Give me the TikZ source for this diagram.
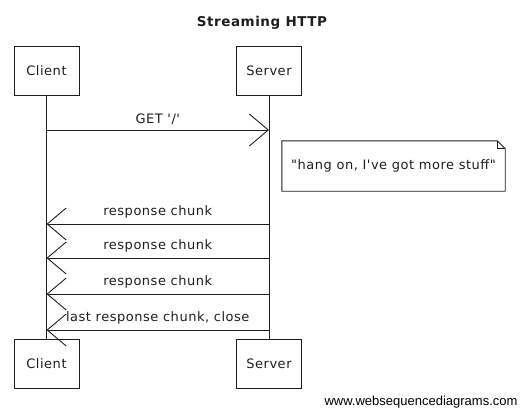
\documentclass[tikz,border=0pt]{standalone}
\usepackage{fontspec}
\setmainfont{DejaVu Sans}[Ligatures=TeXOff, LetterSpace=4]
\newfontfamily\wsdfont{Liberation Sans}
\usetikzlibrary{arrows.meta,positioning}
\definecolor{inkgray}{RGB}{30,30,30}

\begin{document}
\begin{tikzpicture}[x=1pt,y=-1pt,
    every node/.style={font=\fontsize{13}{15}\selectfont, text=inkgray},
    actor/.style={draw=inkgray, line width=0.9pt, minimum width=65pt, minimum height=49pt, inner sep=0pt},
    msg/.style={draw=inkgray, line width=0.9pt, -{Straight Barb[length=19pt,width=32pt]}},
    lifeline/.style={draw=inkgray, line width=0.8pt}]
  \useasboundingbox (0,0) rectangle (530,410);

  % Title
  \node[font=\fontsize{13.5}{15}\selectfont\bfseries] (title) at (262,23) {Streaming HTTP};

  % Participants, top and bottom
  \node[actor] (client) at (46.5,70.5) {Client};
  \node[actor] (server) at (269,70.5) {Server};
  \node[actor] (clientB) at (46.5,364) {Client};
  \node[actor] (serverB) at (269,364) {Server};

  % Lifelines
  \draw[lifeline] (client) -- (clientB);
  \draw[lifeline] (server) -- (serverB);

  % Request
  \coordinate (c0) at (client |- 0,130);
  \coordinate (s0) at (server |- 0,130);
  \draw[msg] (c0) -- node[above=2pt] (get) {GET '/'} (s0);

  % Note next to the server
  \node[minimum width=223pt, minimum height=50pt, inner sep=0pt] (note) at (393.5,166)
    {"hang on, I've got more stuff"};
  \draw[inkgray, line width=0.9pt] (note.north west) -- ([xshift=-8pt]note.north east)
    -- ([yshift=-8pt]note.north east) -- (note.south east) -- (note.south west) -- cycle;
  \draw[inkgray, line width=0.7pt] ([xshift=-8pt]note.north east) -- ([xshift=-8pt,yshift=-8pt]note.north east)
    -- ([yshift=-8pt]note.north east);

  % Responses
  \foreach \i/\y/\txt in {1/224/response chunk, 2/258/response chunk,
      3/294/response chunk, 4/330/{last response chunk, close}} {
    \coordinate (s\i) at (server |- 0,\y);
    \coordinate (c\i) at (client |- 0,\y);
    \draw[msg] (s\i) -- node[above=2pt] (r\i) {\txt} (c\i);
  }

  % Watermark
  \node[font=\wsdfont\fontsize{13}{15}\selectfont, text=black] (wsd) at (421,402) {www.websequencediagrams.com};
\end{tikzpicture}
\end{document}
